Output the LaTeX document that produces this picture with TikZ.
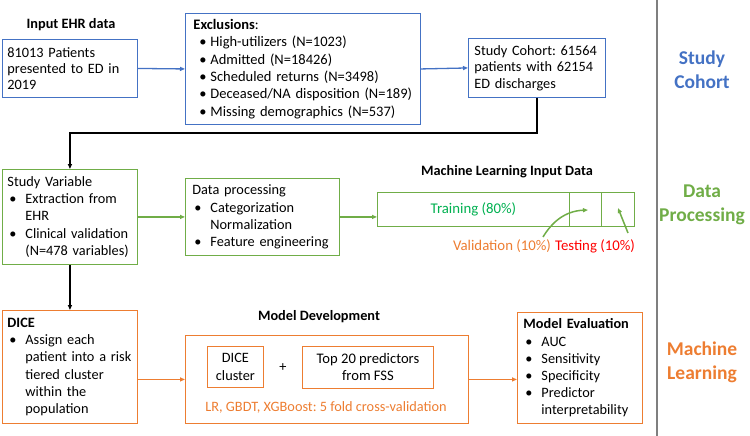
\documentclass[tikz,border=0pt]{standalone}
\usepackage{fontspec}
\setmainfont{Carlito}
\usetikzlibrary{arrows.meta}
\frenchspacing
\definecolor{cblue}{HTML}{4472C4}
\definecolor{cgreen}{HTML}{70AD47}
\definecolor{corange}{HTML}{ED7D31}
\definecolor{ctrain}{HTML}{00B050}
\definecolor{cred}{HTML}{FF0000}
\definecolor{cgray}{HTML}{7F7F7F}
\newcommand\fs{\fontsize{14.3}{17.2}\selectfont}
\newcommand\fsb{\fontsize{14.5}{17.4}\selectfont}
\newcommand\bi{\makebox[18pt][l]{\hspace{2pt}•}}
\newcommand\ci{\hspace*{18pt}}
\newcommand\be{\makebox[17pt][l]{\hspace{6pt}•}}
\tikzset{
  box/.style={draw, line width=0.9pt, inner xsep=6pt, inner ysep=0pt, align=left, anchor=north west, font=\fs},
  cbox/.style={draw, line width=0.9pt, inner sep=0pt, align=center, anchor=north west, font=\fs},
  head/.style={font=\fontsize{14.3}{17}\selectfont\bfseries},
  side/.style={font=\fontsize{19.5}{24}\selectfont\bfseries, align=center},
  arr/.style={-{Triangle[length=5pt,width=4pt]}},
}
\begin{document}
\begin{tikzpicture}[x=1pt,y=-1pt]
\useasboundingbox (0,0) rectangle (750,436);
% separator
\draw[cgray, line width=1.5pt] (657,0) -- (657,436);
% side titles
\node[side, text=cblue] (t1) at (702,70) {Study\\Cohort};
\node[side, text=cgreen] (t2) at (702,205) {Data\\Processing};
\node[side, text=corange] (t3) at (702,362) {Machine\\Learning};
% row 1
\node[head] (h1) at (71,25) {Input EHR data};
\node[box, draw=cblue, text width=125pt, minimum height=58pt, inner xsep=5pt, font=\fontsize{14.3}{16.2}\selectfont] (inp) at (2,39)
 {81013 Patients\\presented to ED in\\2019};
\node[box, draw=cblue, text width=219pt, minimum height=111pt, inner xsep=8pt, font=\fsb] (excl) at (185,13)
 {\textbf{Exclusions}:\\
  \be High-utilizers (N=1023)\\
  \be Admitted (N=18426)\\
  \be Scheduled returns (N=3498)\\
  \be Deceased/NA disposition (N=189)\\
  \be Missing demographics (N=537)};
\node[box, draw=cblue, text width=125pt, minimum height=59pt, font=\fontsize{14.3}{16.6}\selectfont] (coh) at (468,38)
 {Study Cohort: 61564\\patients with 62154\\ED discharges};
\draw[cblue, line width=1.3pt, arr] (inp.east) -- (excl.west);
\draw[cblue, line width=1.3pt, arr] (excl.east) -- (coh.west);
% row 2
\node[box, draw=cgreen, text width=125pt, minimum height=95pt, inner xsep=5pt] (svar) at (2,169)
 {Study Variable\\
  \bi Extraction from\\
  \ci EHR\\
  \bi Clinical validation\\
  \ci (N=478 variables)};
\node[box, draw=cgreen, text width=140pt, minimum height=77pt, inner xsep=7pt] (dproc) at (185,178)
 {Data processing\\
  \bi Categorization\\
  \ci Normalization\\
  \bi Feature engineering};
\node[head] (h2) at (507,172) {Machine Learning Input Data};
\node[cbox, draw=cgreen, minimum width=192pt, minimum height=34pt, text=ctrain, font=\fontsize{14.8}{17}\selectfont] (train) at (377,192) {Training (80\%)};
\node[cbox, draw=cgreen, minimum width=32pt, minimum height=34pt] (val) at (569,192) {};
\node[cbox, draw=cgreen, minimum width=33pt, minimum height=34pt] (test) at (601,192) {};
\node[font=\fontsize{14.8}{17}\selectfont, text=corange] (lval) at (502,246) {Validation (10\%)};
\node[font=\fontsize{14.8}{17}\selectfont, text=cred] (ltest) at (595,246) {Testing (10\%)};
\coordinate (vs) at (543,237);
\coordinate (ve) at (588,210);
\coordinate (ts) at (628,233);
\coordinate (te) at (618,208);
\draw[cgreen, line width=1.5pt, arr] (vs) .. controls (552,222) and (565,211) .. (ve);
\draw[cgreen, line width=1.5pt, arr] (ts) -- (te);
\draw[cgreen, line width=1.8pt, arr] (svar.east) -- (dproc.west);
\draw[cgreen, line width=1.8pt, arr] (dproc.east) -- (dproc.east -| train.west);
% black connectors
\coordinate (bend) at (svar.north |- 0,133);
\draw[black, line width=2.2pt, arr] (coh.south) |- (bend) -- (svar.north);
% row 3
\node[box, draw=corange, text width=125pt, minimum height=113pt, inner xsep=5pt] (dice) at (2,310)
 {\textbf{DICE}\\
  \bi Assign each\\
  \ci patient into a risk\\
  \ci tiered cluster\\
  \ci within the\\
  \ci population};
\draw[black, line width=2.2pt, arr] (svar.south) -- (dice.north);
\node[head] (h3) at (319,317) {Model Development};
\node[cbox, draw=corange, minimum width=283pt, minimum height=88pt] (mdev) at (185,335) {};
\node[cbox, draw=corange, minimum width=56pt, minimum height=41pt] (dcl) at (207,346) {DICE\\cluster};
\node[font=\fs] (plus) at (283,368) {+};
\node[cbox, draw=corange, minimum width=131pt, minimum height=42pt, font=\fontsize{14.6}{17}\selectfont] (top) at (302,346) {Top 20 predictors\\from FSS};
\node[font=\fs, text=corange] (lr) at (326,407) {LR, GBDT, XGBoost: 5 fold cross-validation};
\node[box, draw=corange, text width=113pt, minimum height=111pt] (meval) at (517,312)
 {\textbf{Model Evaluation}\\
  \bi AUC\\
  \bi Sensitivity\\
  \bi Specificity\\
  \bi Predictor\\
  \ci interpretability};
\draw[corange, line width=1.8pt, arr] (dice.east |- mdev.west) -- (mdev.west);
\draw[corange, line width=1.8pt, arr] (mdev.east) -- (mdev.east -| meval.west);
\end{tikzpicture}
\end{document}
